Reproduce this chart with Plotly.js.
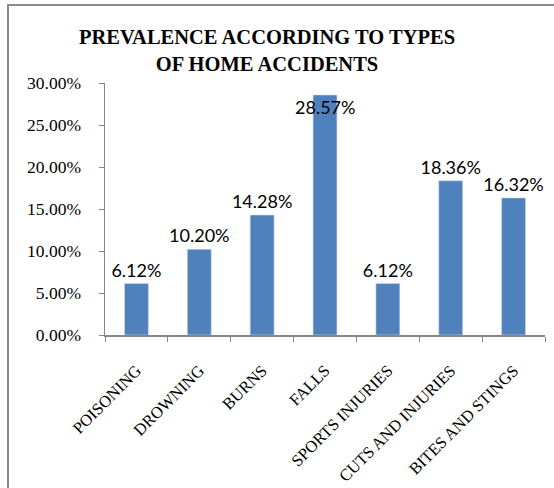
<!DOCTYPE html>
<html>
<head>
<meta charset="utf-8">
<script src="https://cdn.plot.ly/plotly-3.0.1.min.js"></script>
<style>
  html, body { margin: 0; padding: 0; background: #fff; }
  #wrap { position: relative; width: 554px; height: 488px; overflow: hidden; }
  #chart { width: 554px; height: 488px; }
  #frame { position: absolute; left: 7px; top: 4px; width: 600px; height: 600px;
           border-left: 2px solid #8c8c8c; border-top: 2px solid #8c8c8c; pointer-events: none; }
</style>
</head>
<body>
<div id="wrap">
  <div id="chart"></div>
  <div id="frame"></div>
</div>
<script>
const categories = ["POISONING", "DROWNING", "BURNS", "FALLS", "SPORTS INJURIES", "CUTS AND INJURIES", "BITES AND STINGS"];
const prevalence = [0.0612, 0.1020, 0.1428, 0.2857, 0.0612, 0.1836, 0.1632];
const valueLabels = ["6.12%", "10.20%", "14.28%", "28.57%", "6.12%", "18.36%", "16.32%"];
const tickValues = [0, 0.05, 0.10, 0.15, 0.20, 0.25, 0.30];
const tickLabels = ["0.00%", "5.00%", "10.00%", "15.00%", "20.00%", "25.00%", "30.00%"];

const labelFont = { family: "Lato, 'Noto Sans', sans-serif", size: 18, color: "#000" };
const topLimit = 0.27; // labels of bars taller than this sit just inside the bar top

const trace = {
  type: "bar",
  x: categories,
  y: prevalence,
  text: valueLabels.map((t, i) => prevalence[i] > topLimit ? "" : t),
  texttemplate: "%{text}",
  textposition: "outside",
  textangle: 0,
  constraintext: "none",
  cliponaxis: false,
  textfont: labelFont,
  outsidetextfont: labelFont,
  marker: { color: "#4F81BD", line: { color: "#c9d8ea", width: 0.6 } },
  hoverinfo: "skip"
};

const annotations = categories
  .map((c, i) => ({ c, i }))
  .filter(o => prevalence[o.i] > topLimit)
  .map(o => ({
    x: o.c,
    y: prevalence[o.i],
    xref: "x",
    yref: "y",
    text: valueLabels[o.i],
    showarrow: false,
    yanchor: "top",
    xanchor: "center",
    yshift: 1,
    font: labelFont
  }));

const layout = {
  width: 554,
  height: 488,
  margin: { l: 105, r: 9, t: 83, b: 153 },
  paper_bgcolor: "#fff",
  plot_bgcolor: "#fff",
  bargap: 0.62,
  showlegend: false,
  annotations: annotations,
  title: {
    text: "<b>PREVALENCE ACCORDING TO TYPES<br>OF HOME ACCIDENTS</b>",
    font: { family: "'Liberation Serif', 'Times New Roman', serif", size: 20.5, color: "#000" },
    x: 267 / 554,
    xanchor: "center",
    xref: "container",
    y: 1 - 44 / 488,
    yanchor: "top",
    yref: "container"
  },
  xaxis: {
    type: "category",
    tickangle: -45,
    tickfont: { family: "'Liberation Serif', 'Times New Roman', serif", size: 16.5, color: "#000" },
    showline: true,
    linecolor: "#868686",
    linewidth: 1.5,
    ticks: "outside",
    tickson: "boundaries",
    ticklen: 5,
    tickcolor: "#868686",
    showgrid: false,
    zeroline: false,
    ticklabelstandoff: 18
  },
  yaxis: {
    range: [0, 0.30],
    tickvals: tickValues,
    ticktext: tickLabels,
    tickfont: { family: "'Liberation Serif', 'Times New Roman', serif", size: 17.5, color: "#000" },
    showline: true,
    linecolor: "#868686",
    linewidth: 1.5,
    ticks: "outside",
    ticklen: 5,
    tickcolor: "#868686",
    showgrid: false,
    zeroline: false,
    ticklabelstandoff: 14
  }
};

Plotly.newPlot("chart", [trace], layout, { displayModeBar: false, staticPlot: true });
</script>
</body>
</html>
